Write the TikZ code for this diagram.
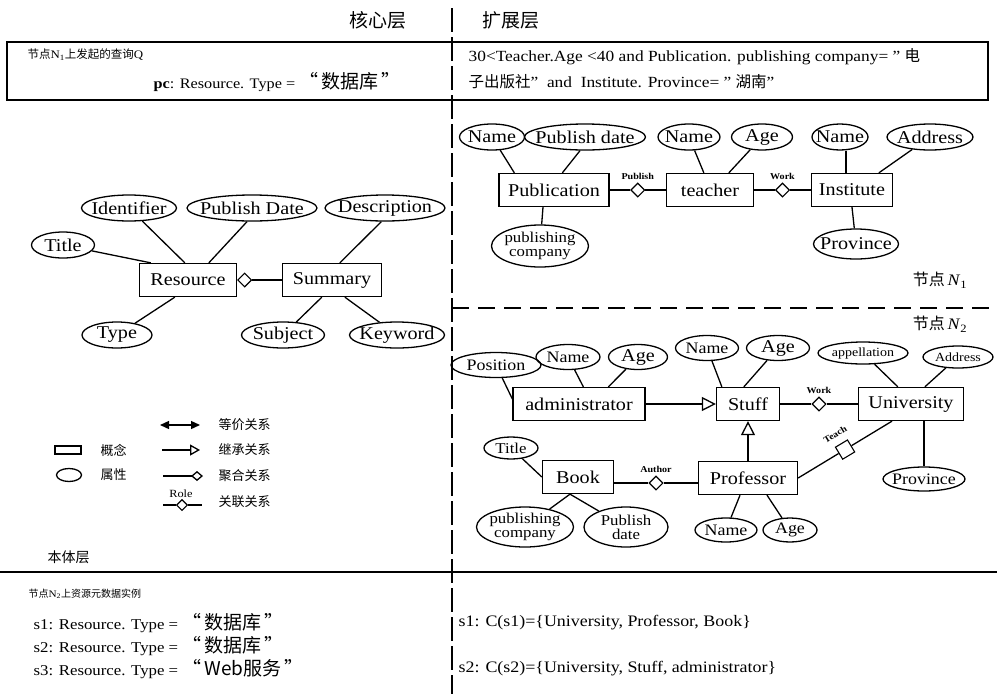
\documentclass[tikz,border=0pt]{standalone}
\usepackage{fontspec}
\setmainfont{Liberation Serif}[FakeStretch=1.12]
\newfontfamily\cjk{Noto Sans CJK SC}
\usetikzlibrary{shapes.geometric,arrows.meta,calc}
\newcommand\zh[1]{{\cjk #1}}
\newcommand\fbig{\fontsize{18}{20}\selectfont}
\newcommand\fmid{\fontsize{16}{18}\selectfont}
\newcommand\fsm{\fontsize{12.5}{14}\selectfont}
\newcommand\ftwo{\fontsize{15}{14}\selectfont}
\newcommand\fti{\fontsize{15}{16}\selectfont}
\begin{document}
\begin{tikzpicture}[x=1pt,y=-1pt,line width=1.3pt,
  ent/.style={draw,rectangle,inner sep=0pt,minimum height=33pt,font=\fbig},
  att/.style 2 args={draw,ellipse,inner sep=0pt,minimum height=26pt,
     label={[font=#1,inner sep=0pt,align=center]center:{#2}}},
  agg/.style={draw,diamond,fill=white,minimum width=14pt,minimum height=14pt,inner sep=0pt,line width=1.1pt},
  rel/.style={font=\bfseries\fontsize{9}{10}\selectfont},
  inh/.style={-{Triangle[open,length=14pt,width=14pt]}},
  lbl/.style={font=\fmid,anchor=west,inner sep=0pt},
]
\useasboundingbox (0,0) rectangle (997,694);
% frames
\draw[line width=1.8pt] (7,42) rectangle (988,100);
\draw[line width=1.8pt] (0,572) -- (997,572);
\draw[line width=1.3pt,dash pattern=on 24pt off 5pt] (452,8) -- (452,694);
\draw[line width=1.8pt,dash pattern=on 17pt off 9pt] (452,308) -- (997,308);
% headers
\node[font=\fontsize{19}{20}\selectfont] (hcore) at (378,20) {\zh{核心层}};
\node[font=\fontsize{19}{20}\selectfont] (hext) at (511,20) {\zh{扩展层}};
\node[lbl,font=\fontsize{11.5}{13}\selectfont] (qtitle) at (27,55) {\zh{节点}N\textsubscript{1}\zh{上发起的查询}Q};
\node[lbl,font=\fontsize{14.5}{16}\selectfont] (qpc) at (153,82) {\textbf{pc}: Resource. Type = \fontsize{19}{20}\selectfont\zh{“\,数据库\,”}};
\node[lbl,font=\fontsize{15.5}{16}\selectfont] (qr1) at (468,57) {30<Teacher.Age <40 and Publication. publishing company= ” \zh{电}};
\node[lbl,font=\fontsize{15.5}{16}\selectfont] (qr2) at (468,82) {\zh{子出版社}”\ \ and\ \ Institute. Province= ” \zh{湖南}”};
% left ER
\node[ent,minimum width=97pt] (res) at (188,280) {Resource};
\node[ent,minimum width=99pt] (sum) at (332,280) {Summary};
\node[agg,anchor=west] (d0) at (res.east) {};
\draw (d0.east) -- (sum.west);
\node[att={\fbig}{Title},minimum width=63pt] (title) at (63,245) {};
\node[att={\fbig}{Identifier},minimum width=95pt] (ident) at (129,208) {};
\node[att={\fbig}{Publish Date},minimum width=130pt] (pdate) at (252,208) {};
\node[att={\fbig}{Description},minimum width=120pt] (desc) at (385,208) {};
\node[att={\fbig}{Type},minimum width=70pt] (type) at (117,335) {};
\node[att={\fbig}{Subject},minimum width=83pt] (subj) at (283,335) {};
\node[att={\fbig}{Keyword},minimum width=95pt] (kw) at (397,335) {};
\draw (title) -- ([xshift=12pt]res.north west);
\draw (ident) -- ([xshift=46pt]res.north west);
\draw (pdate.-110) -- ([xshift=70pt]res.north west);
\draw (desc.-105) -- ([xshift=58pt]sum.north west);
\draw (type) -- ([xshift=36pt]res.south west);
\draw (subj) -- ([xshift=40pt]sum.south west);
\draw (kw) -- ([xshift=63pt]sum.south west);
% N1
\node[ent,minimum width=110pt] (pub) at (554,190) {Publication};
\node[ent,minimum width=87pt] (tea) at (710,190) {teacher};
\node[ent,minimum width=81pt] (inst) at (852,190) {Institute};
\node[agg] (dpub) at ($(pub.east)!0.5!(tea.west)$) {};
\node[agg] (dwork) at ($(tea.east)!0.5!(inst.west)$) {};
\draw (pub.east) -- (dpub.west) (dpub.east) -- (tea.west);
\draw (tea.east) -- (dwork.west) (dwork.east) -- (inst.west);
\node[rel] (lpub) at ([yshift=14pt]dpub) {Publish};
\node[rel] (lwork) at ([yshift=14pt]dwork) {Work};
\node[att={\fbig}{Name},minimum width=65pt] (n1a) at (492,137) {};
\node[att={\fbig}{Publish date},minimum width=121pt] (n1b) at (585,137) {};
\node[att={\fbig}{Name},minimum width=62pt] (n1c) at (689,137) {};
\node[att={\fbig}{Age},minimum width=61pt] (n1d) at (762,137) {};
\node[att={\fbig}{Name},minimum width=56pt] (n1e) at (840,137) {};
\node[att={\fbig}{Address},minimum width=86pt] (n1f) at (930,137) {};
\node[att={\ftwo}{publishing\\company},minimum width=97pt,minimum height=42pt] (n1g) at (540,246) {};
\node[att={\fbig}{Province},minimum width=85pt,minimum height=30pt] (n1h) at (856,244) {};
\draw (n1a) -- ([xshift=16pt]pub.north west);
\draw (n1b.-110) -- ([xshift=64pt]pub.north west);
\draw ([xshift=-11pt]pub.south) -- (n1g);
\draw (n1c) -- ([xshift=38pt]tea.north west);
\draw (n1d) -- ([xshift=63pt]tea.north west);
\coordinate (ie) at ([xshift=35pt]inst.north west);
\draw (ie |- n1e.south) -- (ie);
\draw (n1f) -- ([xshift=68pt]inst.north west);
\draw (inst.south) -- (n1h);
\node[font=\fmid] (nd1) at (940,280) {\zh{节点}\,\textit{N}\textsubscript{1}};
% N2
\node[font=\fmid] (nd2) at (940,324) {\zh{节点}\,\textit{N}\textsubscript{2}};
\node[ent,minimum width=132pt] (adm) at (579,404) {administrator};
\node[ent,minimum width=63pt] (stf) at (748,404) {Stuff};
\node[ent,minimum width=105pt] (uni) at (911,404) {University};
\node[ent,minimum width=71pt] (book) at (578,477) {Book};
\node[ent,minimum width=99pt] (prof) at (748,478) {Professor};
\draw[inh] (adm.east) -- (stf.west);
\draw[inh] (prof.north) -- (stf.south);
\node[agg] (dw2) at ($(stf.east)!0.5!(uni.west)$) {};
\draw (stf.east) -- (dw2.west) (dw2.east) -- (uni.west);
\node[rel] (lw2) at ([yshift=14pt]dw2) {Work};
\coordinate (bk) at ([yshift=-6pt]book.east);
\coordinate (pf) at ([yshift=-5pt]prof.west);
\node[agg] (dau) at ($(bk)!0.5!(pf)$) {};
\draw (bk) -- (dau.west) (dau.east) -- (pf);
\node[rel] (lau) at ([yshift=14pt]dau) {Author};
\coordinate (ut) at ([xshift=-19pt]uni.south);
\node[draw,rectangle,fill=white,minimum size=14pt,inner sep=0pt,line width=1.1pt,rotate=31] (dte) at ($(prof.east)!0.5!(ut)$) {};
\draw (prof.east) -- (dte) -- (ut);
\node[rel,rotate=31] (lte) at ([xshift=-10pt,yshift=15pt]dte) {Teach};
\node[att={\fmid}{Position},minimum width=90pt,minimum height=25pt] (p1) at (496,365) {};
\node[att={\fmid}{Name},minimum width=64pt,minimum height=25pt] (p2) at (568,357) {};
\node[att={\fbig}{Age},minimum width=59pt,minimum height=25pt] (p3) at (638,357) {};
\node[att={\fmid}{Name},minimum width=63pt,minimum height=25pt] (p4) at (707,348) {};
\node[att={\fbig}{Age},minimum width=63pt,minimum height=25pt] (p5) at (778,348) {};
\node[att={\fsm}{appellation},minimum width=90pt,minimum height=22pt] (p6) at (863,353) {};
\node[att={\fsm}{Address},minimum width=70pt,minimum height=22pt] (p7) at (958,357) {};
\draw (p1) -- ([yshift=5pt]adm.west);
\draw (p2) -- ([xshift=71pt]adm.north west);
\draw (p3) -- ([xshift=96pt]adm.north west);
\draw (p4) -- ([xshift=6pt]stf.north west);
\draw (p5) -- ([xshift=28pt]stf.north west);
\draw (p6) -- ([xshift=40pt]uni.north west);
\draw (p7) -- ([xshift=67pt]uni.north west);
\node[att={\fti}{Title},minimum width=54pt,minimum height=22pt] (q1) at (511,448) {};
\node[att={\ftwo}{publishing\\company},minimum width=97pt,minimum height=40pt] (q2) at (525,527) {};
\node[att={\ftwo}{Publish\\date},minimum width=84pt,minimum height=40pt] (q3) at (626,527) {};
\node[att={\fmid}{Name},minimum width=62pt,minimum height=24pt] (q4) at (726,530) {};
\node[att={\fmid}{Age},minimum width=54pt,minimum height=24pt] (q5) at (790,530) {};
\node[att={\fmid}{Province},minimum width=82pt,minimum height=24pt] (q6) at (924,479) {};
\draw (q1) -- (book.west);
\coordinate (bb) at ([xshift=-8pt]book.south);
\draw (bb) -- (q2) (bb) -- (q3);
\draw ([xshift=-8pt]prof.south) -- (q4);
\draw ([xshift=19pt]prof.south) -- (q5);
\draw (uni.south -| q6) -- (q6);
% legend
\coordinate (e1) at (160,425); \coordinate (e2) at (200,425);
\draw[{Triangle[length=9pt,width=8pt]}-{Triangle[length=9pt,width=8pt]}] (e1) -- (e2);
\coordinate (i1) at (162,450); \coordinate (i2) at (200,450);
\draw[-{Triangle[open,length=10pt,width=11pt]}] (i1) -- (i2);
\coordinate (a1) at (163,476); \coordinate (a2) at (203,476);
\draw[-{Diamond[open,length=12pt,width=10pt]}] (a1) -- (a2);
\coordinate (r1) at (163,505); \coordinate (r2) at (202,505);
\node[agg,minimum width=11pt,minimum height=11pt] (rd) at (182,505) {};
\draw (r1) -- (rd.west) (rd.east) -- (r2);
\node[font=\fontsize{11}{12}\selectfont] (rl) at (181,494) {Role};
\node[draw,rectangle,minimum width=26pt,minimum height=8pt,inner sep=0pt] (lrect) at (68,450) {};
\node[draw,ellipse,minimum width=25pt,minimum height=13pt,inner sep=0pt] (lell) at (69,475) {};
\node[lbl,font=\fontsize{13}{14}\selectfont] (t1) at (218,425) {\zh{等价关系}};
\node[lbl,font=\fontsize{13}{14}\selectfont] (t2) at (218,450) {\zh{继承关系}};
\node[lbl,font=\fontsize{13}{14}\selectfont] (t3) at (218,476) {\zh{聚合关系}};
\node[lbl,font=\fontsize{13}{14}\selectfont] (t4) at (218,502) {\zh{关联关系}};
\node[lbl,font=\fontsize{13}{14}\selectfont] (t5) at (100,450) {\zh{概念}};
\node[lbl,font=\fontsize{13}{14}\selectfont] (t6) at (100,475) {\zh{属性}};
\node[lbl,font=\fontsize{14}{16}\selectfont] (t7) at (47,557) {\zh{本体层}};
% bottom
\node[lbl,font=\fontsize{10}{12}\selectfont] (b0) at (28,594) {\zh{节点}N\textsubscript{2}\zh{上资源元数据实例}};
\node[lbl,font=\fontsize{15}{17}\selectfont] (b1) at (33,623) {s1: Resource. Type = \fontsize{19}{20}\selectfont\zh{“\,数据库\,”}};
\node[lbl,font=\fontsize{15}{17}\selectfont] (b2) at (33,646) {s2: Resource. Type = \fontsize{19}{20}\selectfont\zh{“\,数据库\,”}};
\node[lbl,font=\fontsize{15}{17}\selectfont] (b3) at (33,669) {s3: Resource. Type = \fontsize{19}{20}\selectfont\zh{“\,Web服务\,”}};
\node[lbl] (c1) at (458,623) {s1: C(s1)=\{University, Professor, Book\}};
\node[lbl] (c2) at (458,669) {s2: C(s2)=\{University, Stuff, administrator\}};
\end{tikzpicture}
\end{document}
